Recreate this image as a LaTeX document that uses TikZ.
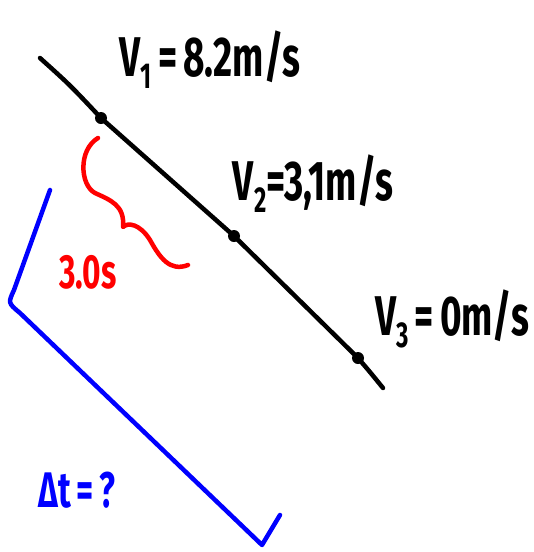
\documentclass[tikz,border=0pt]{standalone}
\usepackage{fontspec}
\setmainfont{Fira Sans}
\newcommand{\hw}[1]{\scalebox{0.66}[1]{#1}}
\newcommand{\sbs}[1]{\raisebox{-0.4ex}{\fontsize{36}{38}\selectfont #1}}
\begin{document}
\begin{tikzpicture}[x=1pt,y=-1pt,
  ink/.style={line width=4.5pt,line cap=round,line join=round},
  lbl/.style={font=\bfseries\fontsize{56}{60}\selectfont,inner sep=0pt},
  dotpt/.style={circle,fill=black,inner sep=0pt,minimum size=12pt}]
\useasboundingbox (0,0) rectangle (534,552);
% black line
\coordinate (a) at (40,58);
\coordinate (b) at (383,388);
\node[dotpt] (d1) at (101,118) {};
\node[dotpt] (d2) at (234,236) {};
\node[dotpt] (d3) at (358,358) {};
\draw[ink] (a) .. controls (70,85) .. (d1.center) -- (d2.center) -- (d3.center) .. controls (370,372) .. (b);
% labels
\node[lbl] (v1) at (210,60) {\hw{V\sbs{1}\,=\,8.2m/s}};
\node[lbl] (v2) at (313,184) {\hw{V\sbs{2}=3,1m/s}};
\node[lbl] (v3) at (452,319) {\hw{V\sbs{3}\,=\,0m/s}};
% red brace
\draw[ink,red] (98,138) .. controls (78,150) and (80,185) .. (95,193)
  .. controls (110,200) and (125,205) .. (123,227)
  .. controls (128,222) and (140,224) .. (150,240)
  .. controls (160,258) and (170,272) .. (188,265);
\node[lbl,red,font=\bfseries\fontsize{48}{52}\selectfont] (t) at (88,272) {\hw{3.0s}};
% blue bracket
\coordinate (c1) at (50,190);
\coordinate (c3) at (262,545);
\coordinate (c4) at (280,515);
\draw[ink,blue] (c1) -- (14,290) .. controls (8,303) .. (20,313) -- (c3) -- (c4);
\node[lbl,blue,font=\bfseries\fontsize{50}{54}\selectfont] (dt) at (77,490) {\hw{Δt\,=\,?}};
\end{tikzpicture}
\end{document}
